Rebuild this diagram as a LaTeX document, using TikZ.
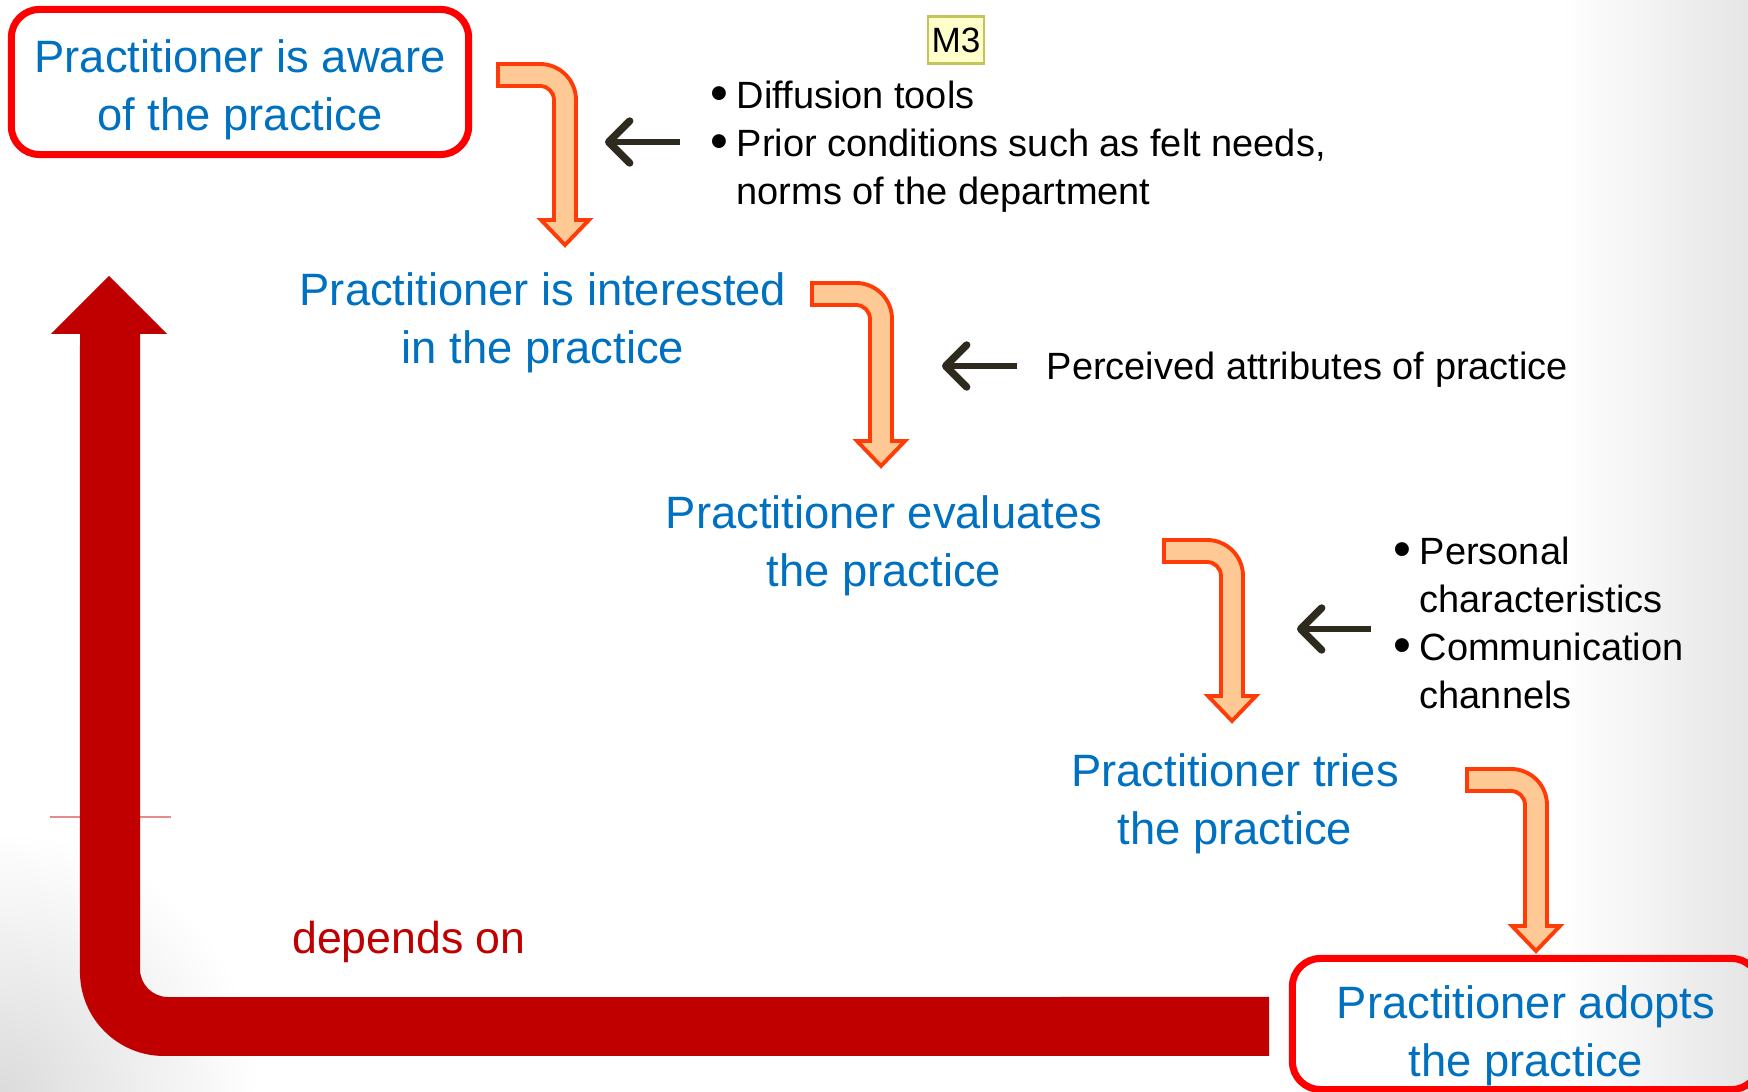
\documentclass[tikz,border=0pt]{standalone}
\usepackage{fontspec}
\setmainfont{Liberation Sans}
\usetikzlibrary{arrows.meta,calc}

\definecolor{stageblue}{HTML}{0070C0}
\definecolor{darkred}{HTML}{C00000}
\definecolor{bendline}{HTML}{FF3C08}
\definecolor{bendfill}{HTML}{FFC996}
\definecolor{pointercol}{HTML}{2E2A1E}
\definecolor{tagfill}{HTML}{FFFFCC}
\definecolor{tagline}{HTML}{C4C45A}

\newcommand{\bul}{\makebox[0.26cm][l]{\raisebox{-0.05em}{\fontsize{14.5}{14.5}\selectfont\textbullet}}}
\newcommand{\bentarrow}[2]{%
  \path[bendarrow] let \p1=#1, \p2=#2 in
    (\x1,{\y1+0.11cm}) -- ({\x2+0.11cm-0.36cm},{\y1+0.11cm})
    arc[start angle=90,end angle=0,radius=0.36cm]
    -- ({\x2+0.11cm},{\y2+0.25cm}) -- ({\x2+0.24cm},{\y2+0.25cm}) -- (\x2,\y2)
    -- ({\x2-0.24cm},{\y2+0.25cm}) -- ({\x2-0.11cm},{\y2+0.25cm})
    -- ({\x2-0.11cm},{\y1-0.25cm})
    arc[start angle=0,end angle=90,radius=0.14cm]
    -- (\x1,{\y1-0.11cm}) -- cycle;}

\begin{document}
\begin{tikzpicture}[x=0.01cm,y=-0.01cm,
    stage/.style={text=stageblue,font=\fontsize{12.9}{16.5}\selectfont,align=center},
    framed/.style={stage,draw=red,line width=2pt,rounded corners=0.28cm,inner ysep=0pt,
      minimum width=4.57cm,minimum height=1.45cm},
    note/.style={font=\fontsize{10.8}{13.6}\selectfont,align=left,inner sep=0pt},
    tag/.style={font=\fontsize{10}{12}\selectfont,draw=tagline,fill=tagfill,line width=0.8pt,
      inner sep=1pt,minimum width=0.51cm,minimum height=0.47cm},
    pointer/.style={draw=pointercol,line width=1.5pt,
      -{Straight Barb[length=2.1mm,width=4.2mm,line width=2.1pt,round]}},
    bendarrow/.style={draw=bendline,fill=bendfill,line width=1.1pt}]

  \useasboundingbox (0,0) rectangle (1748,1092);
  % background shading
  \shade[left color=white,right color=black!10] (1560,0) rectangle (1748,1092);
  \shade[inner color=black!14,outer color=white] (0,1092) circle (2.6cm);

  % stages
  \node[framed] (aware) at (240,82) {\rule{0pt}{13.8pt}Practitioner is aware\\of the practice};
  \node[stage] (interested) at (543,323) {Practitioner is interested\\in the practice};
  \node[stage] (evaluates) at (884,546) {Practitioner evaluates\\the practice};
  \node[stage] (tries) at (1235,804) {Practitioner tries\\the practice};
  \node[framed,minimum width=4.67cm,minimum height=1.31cm] (adopts) at (1526,1024)
    {\rule{0pt}{15.8pt}Practitioner adopts\\the practice};

  % factors
  \node[tag] (m3) at (956,40) {M3};
  \node[note,anchor=west] (tools) at (710,147)
    {\bul Diffusion tools\\\bul Prior conditions such as felt needs,\\\hspace*{0.26cm}norms of the department};
  \node[note,anchor=west] (attrib) at (1046,370) {Perceived attributes of practice};
  \node[note,anchor=west] (channels) at (1393,623)
    {\bul Personal\\\hspace*{0.26cm}characteristics\\\bul Communication\\\hspace*{0.26cm}channels};
  \node[text=darkred,font=\fontsize{12.7}{15}\selectfont] (depends) at (409,942) {depends on};

  % bent arrows between stages
  \coordinate (s1) at (498,75);   \coordinate (t1) at (565,245);
  \coordinate (s2) at (812,294);  \coordinate (t2) at (881,466);
  \coordinate (s3) at (1164,551); \coordinate (t3) at (1232,721);
  \coordinate (s4) at (1467,780); \coordinate (t4) at (1536,951);
  \bentarrow{(s1)}{(t1)}
  \bentarrow{(s2)}{(t2)}
  \bentarrow{(s3)}{(t3)}
  \bentarrow{(s4)}{(t4)}

  % pointers from factors
  \coordinate (p1) at (680,142);  \coordinate (q1) at (605,142);
  \coordinate (p2) at (1017,366); \coordinate (q2) at (942,366);
  \coordinate (p3) at (1371,629); \coordinate (q3) at (1297,629);
  \draw[pointer] (p1) -- (q1);
  \draw[pointer] (p2) -- (q2);
  \draw[pointer] (p3) -- (q3);

  % feedback arrow
  \draw[darkred!45,line width=0.4pt] (50,817) -- (171,817);
  \fill[darkred] (109,276) -- (167,334) -- (140,334) -- (140,969)
    arc[start angle=180,end angle=270,radius=0.28cm] -- (1269,997) -- (1269,1056) -- (164,1056)
    arc[start angle=270,end angle=180,radius=0.84cm] -- (80,334) -- (51,334) -- cycle;
\end{tikzpicture}
\end{document}
